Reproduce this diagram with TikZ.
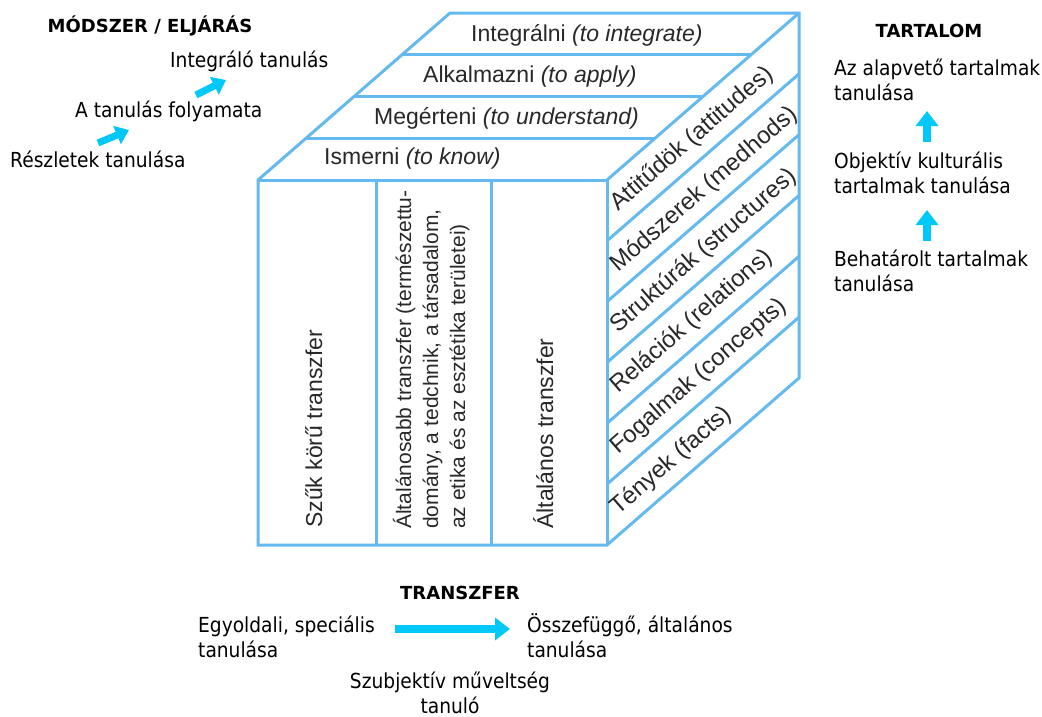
\documentclass[tikz,border=0pt]{standalone}
\usepackage{fontspec}
\setmainfont{Liberation Sans}
\newfontfamily\labelfont[FakeStretch=0.9]{DejaVu Sans}
\newfontfamily\headfont{DejaVu Sans}
\usetikzlibrary{arrows.meta,calc}

\definecolor{cubeline}{RGB}{100,185,238}
\definecolor{arrowcyan}{RGB}{0,200,248}
\definecolor{cubetext}{RGB}{40,40,40}

\tikzset{
  cubeedge/.style={draw=cubeline, line width=3pt, line join=miter},
  cubefont/.style={font=\fontsize{23}{27}\selectfont, text=cubetext, inner sep=0pt},
  toplabel/.style={cubefont, anchor=west},
  sidelabel/.style={cubefont, font=\fontsize{24}{28}\selectfont, rotate=41, anchor=base west},
  frontlabel/.style={cubefont, rotate=90, anchor=base west},
  frontsmall/.style={frontlabel, font=\fontsize{21}{25}\selectfont},
  outer/.style={font=\labelfont\fontsize{20.7}{25}\selectfont, inner sep=0pt, anchor=base west, align=left},
  head/.style={font=\headfont\bfseries\fontsize{18}{22}\selectfont, inner sep=0pt, anchor=base},
  bigarrow/.style={draw=arrowcyan, line width=8pt, -{Triangle[length=15pt,width=22pt]}},
  smallarrow/.style={draw=arrowcyan, line width=7pt, -{Triangle[length=13pt,width=19pt]}},
}

\begin{document}
\begin{tikzpicture}[x=1pt, y=-1pt]
\useasboundingbox (0,0) rectangle (1042,716);

% cube corners
\coordinate (ftl) at (258,180);
\coordinate (ftr) at (607,180);
\coordinate (fbr) at (607,545);
\coordinate (fbl) at (258,545);
\coordinate (btl) at (450,13);
\coordinate (btr) at (799,13);
\coordinate (bbr) at (799,378);

% outline and visible edges
\draw[cubeedge] (fbl) -- (ftl) -- (btl) -- (btr) -- (bbr) -- (fbr) -- cycle;
\draw[cubeedge] (ftl) -- (ftr) -- (fbr);
\draw[cubeedge] (ftr) -- (btr);

% layers on the top face
\foreach \i in {1,2,3}
  \draw[cubeedge] ($(ftl)!\i/4!(btl)$) -- ($(ftr)!\i/4!(btr)$);

% strips on the side face
\foreach \j in {1,...,5}
  \draw[cubeedge] ($(ftr)!\j/6!(fbr)$) -- ($(btr)!\j/6!(bbr)$);

% columns on the front face
\coordinate (c1t) at (376,180); \coordinate (c1b) at (376,545);
\coordinate (c2t) at (491,180); \coordinate (c2b) at (491,545);
\draw[cubeedge] (c1t) -- (c1b);
\draw[cubeedge] (c2t) -- (c2b);

% top face labels
\node[toplabel] (integ) at (471,35)  {Integrálni \textit{(to integrate)}};
\node[toplabel] (apply) at (423,77)  {Alkalmazni \textit{(to apply)}};
\node[toplabel] (under) at (374,118) {Megérteni \textit{(to understand)}};
\node[toplabel] (know)  at (324,159) {Ismerni \textit{(to know)}};

% side face labels
\node[sidelabel] (attit) at (618,212) {Attitűdök (attitudes)};
\node[sidelabel] (modsz) at (618,273) {Módszerek (medhods)};
\node[sidelabel] (struk) at (618,334) {Struktúrák (structures)};
\node[sidelabel] (relac) at (618,394) {Relációk (relations)};
\node[sidelabel] (fogal) at (618,455) {Fogalmak (concepts)};
\node[sidelabel] (tenye) at (618,516) {Tények (facts)};

% front face labels
\node[frontlabel] (szuk)  at (322,528) {Szűk körű transzfer};
\node[frontsmall] (altA)  at (411,529) {Általánosabb transzfer (természettu-};
\node[frontsmall] (altB)  at (438,529) {domány, a tedchnik, a társadalom,};
\node[frontsmall] (altC)  at (465,529) {az etika és az esztétika területei)};
\node[frontlabel] (altal) at (553,529) {Általános transzfer};

% method column
\node[head] (modszer) at (150,32) {MÓDSZER / ELJÁRÁS};
\node[outer] (integral) at (170,67)  {Integráló tanulás};
\node[outer] (folyamat) at (75,117)  {A tanulás folyamata};
\node[outer] (reszlet)  at (10,167)  {Részletek tanulása};
\coordinate (m1s) at (98,143);  \coordinate (m1e) at (129,130);
\coordinate (m2s) at (196,95);  \coordinate (m2e) at (226,80);
\draw[smallarrow] (m1s) -- (m1e);
\draw[smallarrow] (m2s) -- (m2e);

% content column (base anchor sits on the last line)
\node[head] (tartalom) at (929,37) {TARTALOM};
\node[outer] (alap)   at (834,100) {Az alapvető tartalmak\\tanulása};
\node[outer] (objekt) at (834,193) {Objektív kulturális\\tartalmak tanulása};
\node[outer] (behat)  at (834,291) {Behatárolt tartalmak\\tanulása};
\coordinate (t1s) at (927,142); \coordinate (t1e) at (927,111);
\coordinate (t2s) at (927,241); \coordinate (t2e) at (927,210);
\draw[bigarrow] (t1s) -- (t1e);
\draw[bigarrow] (t2s) -- (t2e);

% transfer row
\node[head] (transzfer) at (460,599) {TRANSZFER};
\node[outer] (egyold) at (198,657) {Egyoldali, speciális\\tanulása};
\node[outer] (osszef) at (527,657) {Összefüggő, általános\\tanulása};
\node[outer, align=center, anchor=base] (szubj) at (450,713) {Szubjektív műveltség\\tanuló};
\coordinate (trs) at (395,629); \coordinate (tre) at (510,629);
\draw[bigarrow] (trs) -- (tre);
\end{tikzpicture}
\end{document}
